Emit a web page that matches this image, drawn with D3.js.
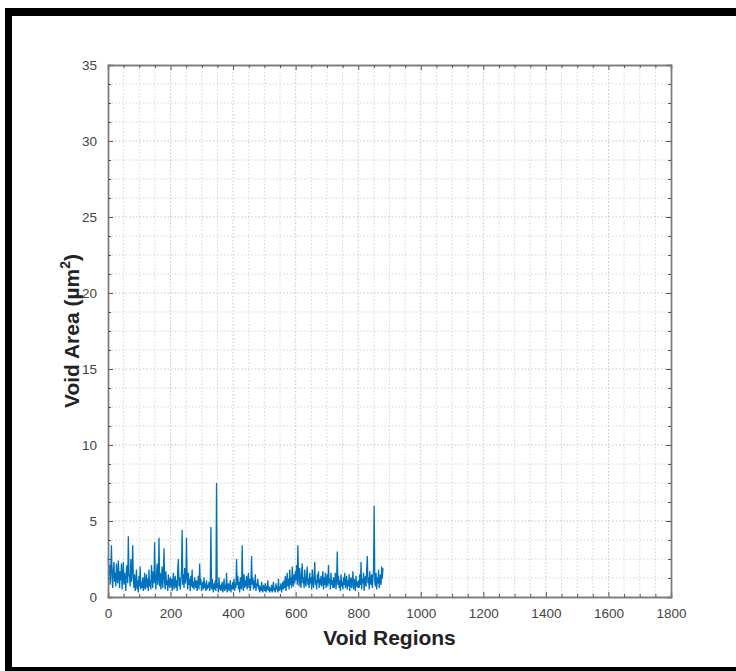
<!DOCTYPE html>
<html>
<head>
<meta charset="utf-8">
<script src="https://cdn.jsdelivr.net/npm/d3@7"></script>
<style>
  html, body { margin: 0; padding: 0; background: #fff; overflow: hidden; }
  svg { display: block; font-family: "Liberation Sans", Arial, sans-serif; }
</style>
</head>
<body>
<div id="chart"></div>
<script>
// ==== DATA ====
// void area per region, one value every 2 regions (x = 1, 3, 5, ... 879)
const REGION_STEP = 2;
const VOID_AREA = [
  2.6, 1.4, 2.1, 0.8, 1.9, 3.4, 1.2, 0.6, 1.8, 2.3, 1.0, 1.6, 0.7, 2.2, 1.3, 0.9, 2.4, 1.5, 0.6, 1.7,
  1.1, 2.2, 0.5, 1.4, 2.3, 0.8, 1.6, 1.2, 0.4, 1.9, 2.1, 0.9, 4.0, 1.5, 1.3, 0.7, 2.5, 1.0, 1.8, 3.4,
  1.2, 0.6, 1.5, 0.4, 0.9, 1.8, 0.5, 1.1, 0.3, 1.4, 0.7, 2.0, 0.5, 1.0, 0.6, 1.3, 0.4, 0.8, 1.6, 0.5,
  0.9, 1.5, 0.6, 1.2, 0.4, 1.8, 0.7, 1.1, 0.5, 2.1, 1.3, 0.6, 1.7, 0.9, 3.6, 1.2, 0.5, 1.4, 2.2, 0.8,
  1.3, 3.9, 0.7, 1.6, 0.5, 1.2, 2.0, 0.6, 1.4, 3.2, 1.0, 0.5, 1.7, 0.8, 1.1, 0.4, 1.5, 0.9, 0.6, 1.3,
  0.7, 1.2, 0.4, 1.0, 1.6, 0.5, 0.9, 1.4, 0.6, 1.1, 0.4, 1.8, 2.5, 0.7, 1.3, 0.5, 1.0, 1.7, 4.4, 0.8,
  1.5, 0.6, 1.9, 0.9, 1.3, 3.9, 1.1, 0.5, 1.6, 0.8, 1.2, 0.4, 1.4, 0.7, 1.8, 0.6, 1.0, 0.5, 1.3, 0.9,
  0.6, 1.1, 0.4, 0.9, 1.4, 0.5, 2.2, 0.8, 1.2, 0.4, 0.7, 1.0, 0.5, 1.3, 0.6, 0.9, 0.4, 1.1, 0.5, 0.8,
  0.6, 1.0, 0.4, 0.8, 4.6, 0.5, 1.2, 0.7, 0.3, 0.9, 0.5, 1.1, 0.4, 7.5, 0.6, 0.9, 0.3, 1.3, 0.5, 0.8,
  0.4, 0.7, 1.0, 0.3, 0.6, 1.2, 0.4, 0.8, 0.5, 1.6, 0.3, 0.7, 0.9, 0.4, 0.6, 1.1, 0.3, 0.8, 0.5, 1.0,
  0.5, 1.2, 0.4, 0.9, 0.6, 2.5, 0.8, 1.4, 0.5, 1.0, 0.3, 1.3, 0.7, 0.5, 3.4, 0.9, 0.4, 1.5, 0.6, 1.1,
  0.7, 1.4, 0.5, 1.0, 1.6, 0.6, 1.2, 0.4, 0.9, 2.7, 0.8, 1.3, 0.5, 1.1, 0.6, 1.5, 0.4, 0.9, 0.7, 1.2,
  0.5, 0.8, 0.3, 0.7, 0.4, 1.0, 0.5, 0.3, 0.8, 0.6, 0.4, 0.9, 0.3, 0.6, 0.5, 1.1, 0.4, 0.7, 0.3, 0.6,
  0.4, 0.8, 0.3, 0.6, 1.0, 0.4, 0.5, 0.3, 0.9, 0.5, 0.7, 0.3, 1.2, 0.4, 0.6, 0.5, 0.9, 0.3, 0.7, 1.0,
  0.5, 1.1, 0.6, 1.4, 0.4, 0.9, 1.6, 0.7, 1.2, 0.5, 1.8, 0.8, 1.3, 0.6, 2.0, 1.0, 0.7, 1.5, 0.9, 1.7,
  1.1, 2.1, 0.8, 3.4, 1.5, 0.7, 1.9, 1.2, 0.6, 1.6, 2.2, 0.9, 1.3, 0.6, 1.8, 1.0, 0.7, 1.4, 2.0, 0.8,
  1.2, 0.6, 1.6, 0.9, 1.3, 0.5, 1.8, 1.0, 0.6, 1.4, 2.3, 0.8, 1.1, 0.5, 1.5, 0.9, 1.7, 0.6, 1.2, 0.8,
  1.4, 0.7, 1.1, 1.7, 0.5, 1.3, 0.8, 1.6, 0.6, 1.0, 1.5, 0.7, 2.1, 0.9, 1.2, 0.5, 1.6, 0.8, 1.1, 0.6,
  1.3, 0.6, 1.0, 1.6, 0.5, 1.2, 3.0, 0.8, 1.4, 0.6, 1.1, 0.4, 1.5, 0.7, 1.0, 0.5, 1.3, 0.8, 1.6, 0.6,
  0.9, 1.4, 0.5, 1.1, 0.7, 1.5, 0.4, 1.0, 1.3, 0.6, 0.9, 1.7, 0.5, 1.2, 0.8, 0.4, 1.4, 0.7, 1.0, 0.6,
  1.1, 0.6, 1.5, 0.8, 2.3, 0.5, 1.2, 0.9, 1.6, 0.4, 1.0, 1.4, 0.7, 1.8, 2.7, 0.9, 1.3, 0.5, 1.7, 1.0,
  0.8, 1.5, 0.6, 1.2, 1.9, 6.0, 1.0, 0.7, 1.6, 0.5, 1.3, 0.9, 1.8, 0.6, 1.1, 1.5, 0.8, 2.0, 1.2, 1.9
];
const X_TICKS = [0, 200, 400, 600, 800, 1000, 1200, 1400, 1600, 1800];
const Y_TICKS = [0, 5, 10, 15, 20, 25, 30, 35];
const X_MINOR_STEP = 50;
const Y_MINOR_STEP = 1.25;

// ==== SIZE ====
const width = 736, height = 671;
const plot = { left: 108, right: 671, top: 65, bottom: 597 };

const x = d3.scaleLinear().domain([0, 1800]).range([plot.left, plot.right]);
const y = d3.scaleLinear().domain([0, 35]).range([plot.bottom, plot.top]);

const svg = d3.select("#chart").append("svg")
  .attr("width", width)
  .attr("height", height);

// black frame: left, top and bottom edges only (right side runs off the picture)
const frame = svg.append("g").attr("fill", "#000");
frame.append("rect").attr("x", 5).attr("y", 8).attr("width", width - 5).attr("height", 8);
frame.append("rect").attr("x", 5).attr("y", 8).attr("width", 7).attr("height", height - 8);
frame.append("rect").attr("x", 5).attr("y", 667).attr("width", width - 5).attr("height", 4);

// ==== GRID ====
const xMinor = d3.range(0, 1800 + 1, X_MINOR_STEP);
const yMinor = d3.range(0, 35 + 0.001, Y_MINOR_STEP);

const grid = svg.append("g").attr("class", "grid");
grid.selectAll("line.vx")
  .data(xMinor.filter(v => v > 0 && v < 1800))
  .join("line")
  .attr("x1", d => x(d)).attr("x2", d => x(d))
  .attr("y1", plot.top).attr("y2", plot.bottom)
  .attr("stroke", d => d % 200 === 0 ? "#c4c4c4" : "#d6d6d6")
  .attr("stroke-width", 1)
  .attr("stroke-dasharray", "1.5,2");
grid.selectAll("line.hy")
  .data(yMinor.filter(v => v > 0 && v < 35))
  .join("line")
  .attr("x1", plot.left).attr("x2", plot.right)
  .attr("y1", d => y(d)).attr("y2", d => y(d))
  .attr("stroke", d => d % 5 === 0 ? "#c4c4c4" : "#d6d6d6")
  .attr("stroke-width", 1)
  .attr("stroke-dasharray", "1.5,2");

// ==== LINE ====
const series = VOID_AREA.map((v, i) => ({ region: 1 + i * REGION_STEP, area: v }));
const line = d3.line().x(d => x(d.region)).y(d => y(d.area));

svg.append("path")
  .datum(series)
  .attr("fill", "none")
  .attr("stroke", "#0072BD")
  .attr("stroke-width", 1.3)
  .attr("d", line);

// ==== AXES (box, inward ticks on all sides) ====
const axisColor = "#7a7a7a";
const ax = svg.append("g").attr("class", "axes");

ax.append("g").attr("transform", `translate(0,${plot.bottom})`)
  .call(d3.axisBottom(x).tickValues(X_TICKS).tickSize(-5).tickFormat(d3.format("d")).tickPadding(11));
ax.append("g").attr("transform", `translate(0,${plot.top})`)
  .call(d3.axisTop(x).tickValues(X_TICKS).tickSize(-5).tickFormat(""));
ax.append("g").attr("transform", `translate(${plot.left},0)`)
  .call(d3.axisLeft(y).tickValues(Y_TICKS).tickSize(-5).tickPadding(11));
ax.append("g").attr("transform", `translate(${plot.right},0)`)
  .call(d3.axisRight(y).tickValues(Y_TICKS).tickSize(-5).tickFormat(""));

// minor ticks
ax.append("g").attr("transform", `translate(0,${plot.bottom})`)
  .call(d3.axisBottom(x).tickValues(xMinor.filter(v => v % 200 !== 0)).tickSize(-3).tickFormat(""));
ax.append("g").attr("transform", `translate(0,${plot.top})`)
  .call(d3.axisTop(x).tickValues(xMinor.filter(v => v % 200 !== 0)).tickSize(-3).tickFormat(""));
ax.append("g").attr("transform", `translate(${plot.left},0)`)
  .call(d3.axisLeft(y).tickValues(yMinor.filter(v => v % 5 !== 0)).tickSize(-3).tickFormat(""));
ax.append("g").attr("transform", `translate(${plot.right},0)`)
  .call(d3.axisRight(y).tickValues(yMinor.filter(v => v % 5 !== 0)).tickSize(-3).tickFormat(""));

ax.selectAll("g")
  .attr("font-family", "Liberation Sans, Arial, sans-serif")
  .attr("font-size", 13.5);
ax.selectAll(".domain").attr("stroke", axisColor).attr("stroke-width", 1.4);
ax.selectAll(".tick line").attr("stroke", "#555").attr("stroke-width", 1);
ax.selectAll(".tick text").attr("fill", "#444");

// ==== AXIS TITLES ====
svg.append("text")
  .attr("x", (plot.left + plot.right) / 2)
  .attr("y", 645)
  .attr("text-anchor", "middle")
  .attr("font-size", 21)
  .attr("font-weight", "bold")
  .attr("fill", "#222")
  .text("Void Regions");

const yTitle = svg.append("text")
  .attr("transform", `translate(79,${(plot.top + plot.bottom) / 2}) rotate(-90)`)
  .attr("text-anchor", "middle")
  .attr("font-size", 21)
  .attr("font-weight", "bold")
  .attr("fill", "#222");
yTitle.append("tspan").text("Void Area (µm");
yTitle.append("tspan").attr("dy", -9).attr("font-size", 14).text("2");
yTitle.append("tspan").attr("dy", 9).text(")");
</script>
</body>
</html>
